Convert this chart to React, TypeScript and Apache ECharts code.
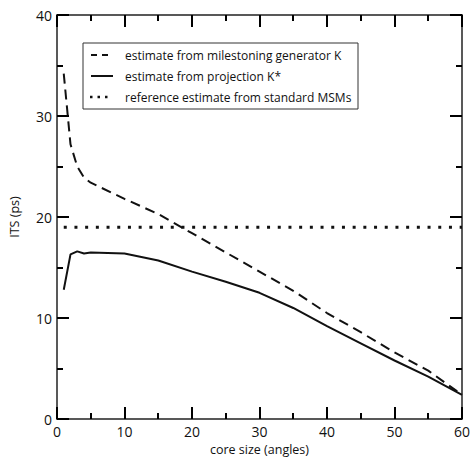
import React, { useEffect, useRef } from "react";
import * as echarts from "echarts";

const coreSize = [1, 2, 3, 4, 5, 10, 15, 20, 25, 30, 35, 40, 45, 50, 55, 60];
const milestoningK = [34.2, 27.2, 25.0, 23.9, 23.4, 21.8, 20.3, 18.4, 16.5, 14.6, 12.7, 10.5, 8.6, 6.6, 4.8, 2.4];
const projectionK = [12.8, 16.3, 16.6, 16.4, 16.5, 16.4, 15.7, 14.6, 13.6, 12.5, 11.0, 9.2, 7.5, 5.8, 4.2, 2.4];
const referenceX = [1, 60];
const referenceITS = [19, 19];
const seriesNames = [
  "estimate from milestoning generator K",
  "estimate from projection K*",
  "reference estimate from standard MSMs",
];

const FONT = "'Open Sans', 'Noto Sans', sans-serif";
const INK = "#111";

function frameAxis(extra: any) {
  return {
    type: "value",
    axisLine: { show: true, onZero: false, lineStyle: { color: "#222", width: 1.5 } },
    axisTick: { show: true, inside: true, length: 12, lineStyle: { color: "#000", width: 2 } },
    minorTick: { show: true, splitNumber: 2, length: 6, lineStyle: { color: "#000", width: 2 } },
    splitLine: { show: false },
    ...extra,
  };
}

export default function App() {
  const ref = useRef<HTMLDivElement>(null);
  useEffect(() => {
    if (!ref.current) return;
    const chart = echarts.init(ref.current, null, { renderer: "svg" });
    const legendRows = [55, 76, 97];
    const iconStyles: any[] = [
      { x1: 91, x2: 108, dash: [6, 5], width: 2 },
      { x1: 91, x2: 113, dash: null, width: 2 },
      { x1: 90, x2: 110, dash: [2.5, 5], width: 2.5 },
    ];
    const legendGraphics: any[] = [
      {
        type: "rect",
        shape: { x: 83, y: 43, width: 275, height: 66 },
        style: { fill: "#fff", stroke: "#333", lineWidth: 1 },
        z: 10,
      },
    ];
    seriesNames.forEach((name, i) => {
      const s = iconStyles[i];
      legendGraphics.push({
        type: "line",
        shape: { x1: s.x1, y1: legendRows[i], x2: s.x2, y2: legendRows[i] },
        style: { stroke: INK, lineWidth: s.width, lineDash: s.dash || undefined },
        z: 11,
      });
      legendGraphics.push({
        type: "text",
        x: 125,
        y: legendRows[i],
        style: {
          text: name,
          fontFamily: FONT,
          fontSize: 12,
          fill: INK,
          verticalAlign: "middle",
          align: "left",
        },
        z: 11,
      });
    });
    chart.setOption({
      animation: false,
      grid: { left: 54, right: 10, top: 15, bottom: 36 },
      graphic: legendGraphics,
      xAxis: [
        frameAxis({
          min: 0,
          max: 60,
          interval: 10,
          name: "core size (angles)",
          nameLocation: "middle",
          nameGap: 23,
          nameTextStyle: { fontFamily: FONT, fontSize: 12.5, color: INK },
          axisLabel: { fontFamily: FONT, fontSize: 14, color: INK, margin: 5 },
        }),
        frameAxis({
          position: "top",
          min: 0,
          max: 60,
          interval: 10,
          axisLabel: { show: false },
        }),
      ],
      yAxis: [
        frameAxis({
          min: 0,
          max: 40,
          interval: 10,
          name: "ITS (ps)",
          nameLocation: "middle",
          nameGap: 36,
          nameTextStyle: { fontFamily: FONT, fontSize: 12.5, color: INK },
          axisLabel: { fontFamily: FONT, fontSize: 14, color: INK, margin: 5 },
        }),
        frameAxis({
          position: "right",
          min: 0,
          max: 40,
          interval: 10,
          axisLabel: { show: false },
        }),
      ],
      series: [
        {
          name: seriesNames[0],
          type: "line",
          showSymbol: false,
          symbol: "none",
          data: coreSize.map((x, i) => [x, milestoningK[i]]),
          lineStyle: { color: INK, width: 2, type: [10, 6] },
          itemStyle: { color: INK },
        },
        {
          name: seriesNames[1],
          type: "line",
          showSymbol: false,
          symbol: "none",
          data: coreSize.map((x, i) => [x, projectionK[i]]),
          lineStyle: { color: INK, width: 2, type: "solid" },
          itemStyle: { color: INK },
        },
        {
          name: seriesNames[2],
          type: "line",
          showSymbol: false,
          symbol: "none",
          data: referenceX.map((x, i) => [x, referenceITS[i]]),
          lineStyle: { color: INK, width: 3, type: [3, 7.7] },
          itemStyle: { color: INK },
        },
      ],
    });
    return () => chart.dispose();
  }, []);
  return <div ref={ref} style={{ width: 473, height: 461, position: "absolute", left: 0, top: 0 }} />;
}
